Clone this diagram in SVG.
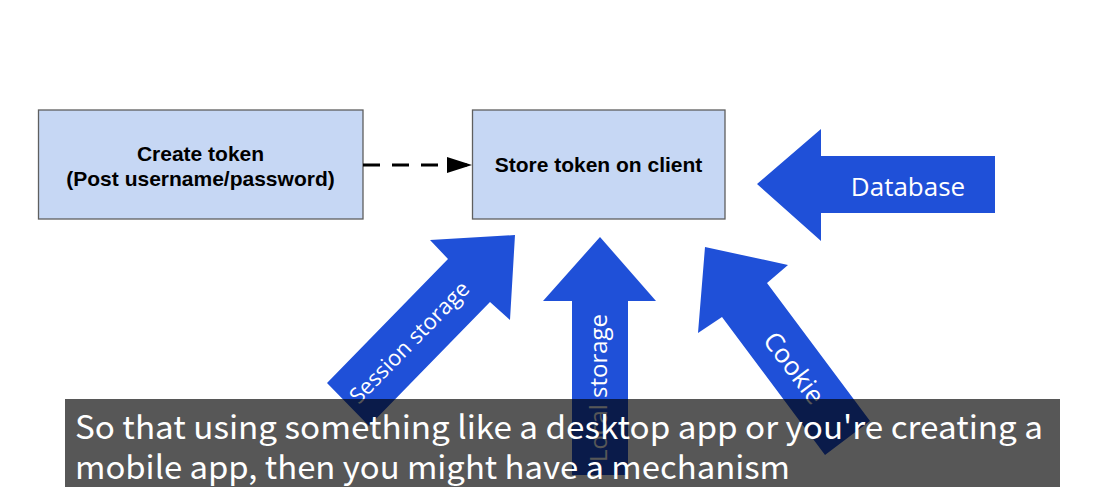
<svg xmlns="http://www.w3.org/2000/svg" width="1117" height="487" viewBox="0 0 1117 487">
  <style>
    .box { fill: #c6d7f4; stroke: #5f5f5f; stroke-width: 1.3; }
    .boxtxt { font-family: "Liberation Sans", Arial, sans-serif; font-weight: bold; font-size: 21px; fill: #000; text-anchor: middle; }
    .big { fill: #1f50d8; }
    .bigtxt { font-family: "Open Sans", "Noto Sans", sans-serif; font-size: 24px; fill: #ffffff; text-anchor: middle; }
    .cap { font-family: "Noto Sans CJK KR", "Noto Sans", sans-serif; font-size: 32px; fill: #ffffff; }
  </style>
  <defs>
    <marker id="ah" markerWidth="25" markerHeight="16" refX="25" refY="8" orient="auto" markerUnits="userSpaceOnUse">
      <polygon points="0,0 25,8 0,16" fill="#000"/>
    </marker>
  </defs>
  <rect width="1117" height="487" fill="#ffffff"/>

  <g id="node-create-token">
    <rect class="box" x="38.5" y="110" width="324.5" height="109"/>
    <text class="boxtxt" x="200.5" y="161">Create token</text>
    <text class="boxtxt" x="200.5" y="186">(Post username/password)</text>
  </g>

  <g id="node-store-token">
    <rect class="box" x="472.5" y="110" width="252.5" height="109"/>
    <text class="boxtxt" x="598.5" y="172">Store token on client</text>
  </g>

  <g id="connectors">
    <line x1="363" y1="165" x2="472" y2="165" stroke="#000" stroke-width="3" stroke-dasharray="17 12" marker-end="url(#ah)"/>
  </g>

  <g id="arrow-database">
    <polygon class="big" points="757,184 821,129 821,156 995,156 995,213 821,213 821,241"/>
    <text class="bigtxt" x="908" y="196" style="font-size:26px">Database</text>
  </g>

  <g id="arrow-session-storage">
    <polygon class="big" points="515,235 510,320 490,302 369,426 327,383 448,259 430,240"/>
    <text class="bigtxt" transform="translate(409,342) rotate(-45.7)" x="0" y="8" style="font-size:22px">Session storage</text>
  </g>

  <g id="arrow-local-storage">
    <polygon class="big" points="600,237 656,301 628,301 628,475 572,475 572,301 543,301"/>
    <text class="bigtxt" transform="translate(607,388) rotate(-90)" x="0" y="0">Local storage</text>
  </g>

  <g id="arrow-cookie">
    <polygon class="big" points="705,247 788,265 767,283 870,421 825,455 722,317 698,333"/>
    <text class="bigtxt" transform="translate(794,368) rotate(53)" x="0" y="9" style="font-size:26px">Cookie</text>
  </g>

  <g id="caption">
    <rect x="65" y="399" width="995" height="88" fill="#000000" fill-opacity="0.66"/>
    <text class="cap" x="75" y="439" textLength="968" lengthAdjust="spacingAndGlyphs">So that using something like a desktop app or you're creating a</text>
    <text class="cap" x="75" y="479" textLength="715" lengthAdjust="spacingAndGlyphs">mobile app, then you might have a mechanism</text>
  </g>
</svg>
